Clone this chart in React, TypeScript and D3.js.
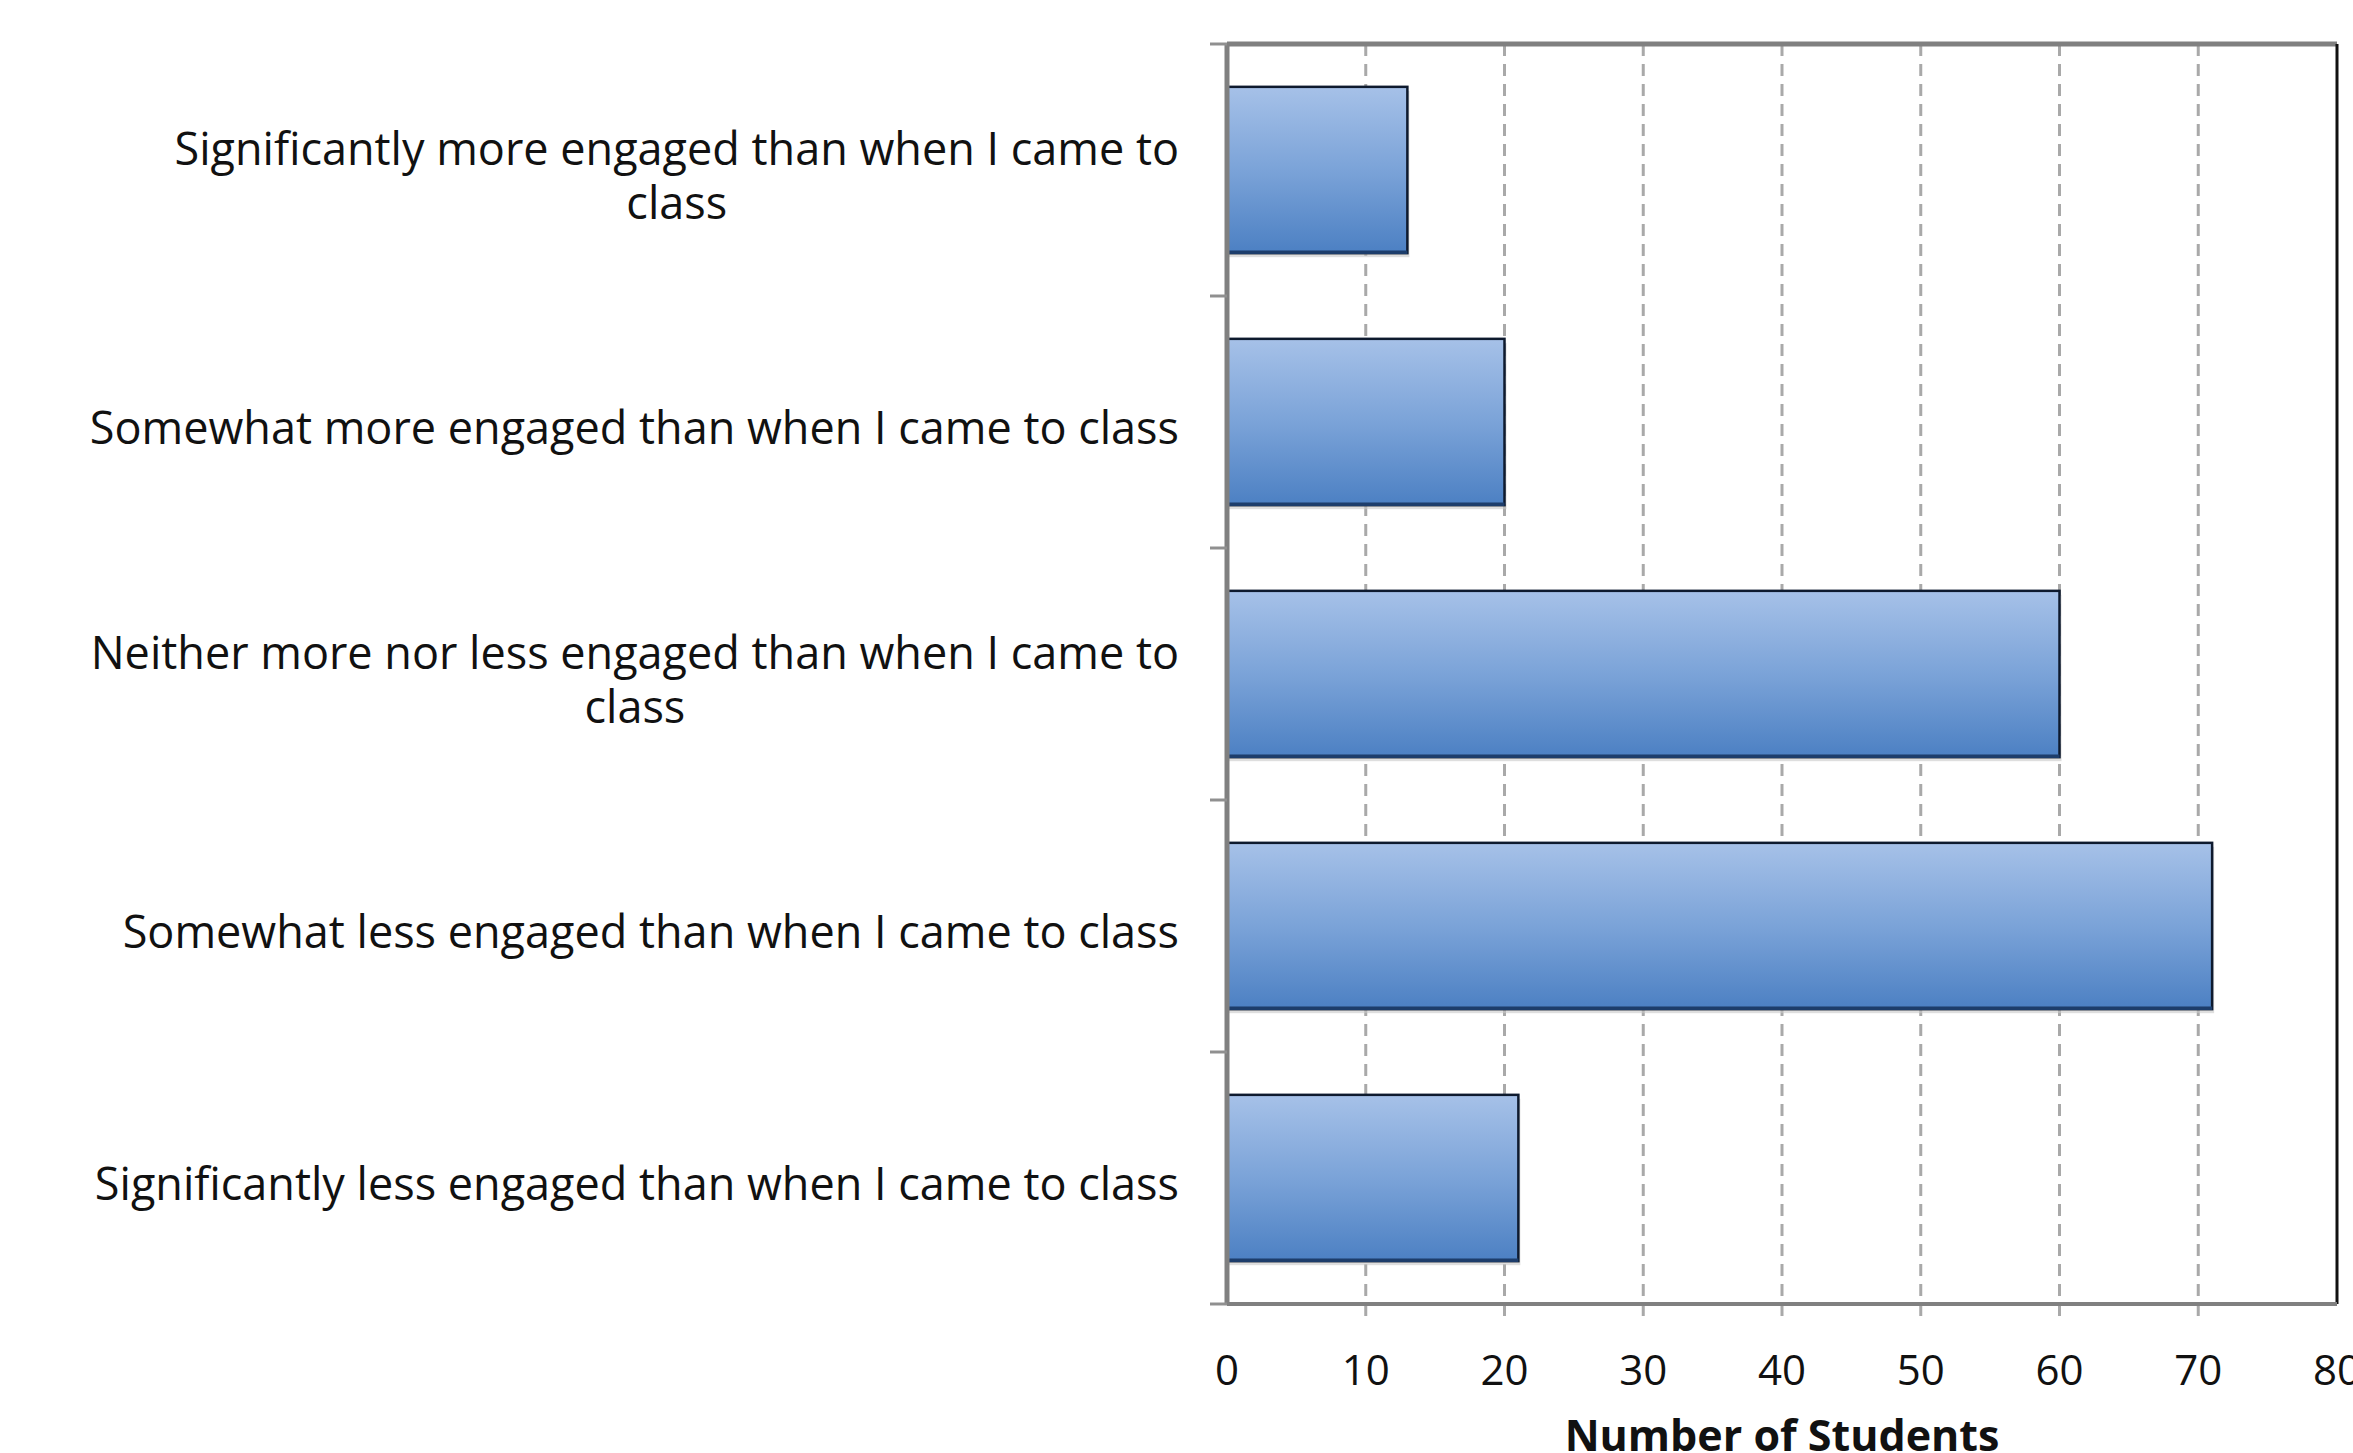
import React, { useEffect, useRef } from "react";
import * as d3 from "d3";

const categories = [
  ["Significantly more engaged than when I came to", "class"],
  ["Somewhat more engaged than when I came to class"],
  ["Neither more nor less engaged than when I came to", "class"],
  ["Somewhat less engaged than when I came to class"],
  ["Significantly less engaged than when I came to class"],
];
const counts = [13, 20, 60, 71, 21];
const xTicks = [0, 10, 20, 30, 40, 50, 60, 70, 80];
const xTitle = "Number of Students";

const W = 2353;
const H = 1453;

export default function App() {
  const ref = useRef<SVGSVGElement>(null);

  useEffect(() => {
    const svg = d3.select(ref.current);
    svg.selectAll("*").remove();

    const margin = { top: 44, right: 16, bottom: 149, left: 1227 };
    const plotW = W - margin.left - margin.right;
    const plotH = H - margin.top - margin.bottom;

    const x = d3.scaleLinear().domain([0, 80]).range([0, plotW]);
    const y = d3
      .scaleBand<number>()
      .domain(d3.range(categories.length))
      .range([0, plotH])
      .paddingInner(0.34)
      .paddingOuter(0.17);

    const defs = svg.append("defs");
    const grad = defs
      .append("linearGradient")
      .attr("id", "barGrad")
      .attr("x1", 0).attr("y1", 0).attr("x2", 0).attr("y2", 1);
    grad.append("stop").attr("offset", "0%").attr("stop-color", "#a6c1e8");
    grad.append("stop").attr("offset", "50%").attr("stop-color", "#7ba3d8");
    grad.append("stop").attr("offset", "100%").attr("stop-color", "#4c80c3");

    const g = svg
      .append("g")
      .attr("transform", `translate(${margin.left},${margin.top})`);

    // gridlines, dashed, running on below the axis as ticks
    g.selectAll(".grid")
      .data(xTicks.slice(1, -1))
      .join("line")
      .attr("x1", (d) => x(d))
      .attr("x2", (d) => x(d))
      .attr("y1", 0)
      .attr("y2", plotH + 20)
      .attr("stroke", "#a9a9a9")
      .attr("stroke-width", 3)
      .attr("stroke-dasharray", "12,8");

    // frame
    g.append("line")
      .attr("x1", 0).attr("x2", plotW).attr("y1", 0).attr("y2", 0)
      .attr("stroke", "#808080").attr("stroke-width", 5);
    g.append("line")
      .attr("x1", plotW).attr("x2", plotW).attr("y1", 0).attr("y2", plotH)
      .attr("stroke", "#111").attr("stroke-width", 3);

    // bar shadows
    g.selectAll(".shadow")
      .data(counts)
      .join("rect")
      .attr("x", 2)
      .attr("y", (d, i) => (y(i) as number) + 4)
      .attr("width", (d) => x(d))
      .attr("height", y.bandwidth())
      .attr("fill", "#c8c8c8")
      .attr("opacity", 0.6);

    // bars
    g.selectAll(".bar")
      .data(counts)
      .join("rect")
      .attr("x", 0)
      .attr("y", (d, i) => y(i) as number)
      .attr("width", (d) => x(d))
      .attr("height", y.bandwidth())
      .attr("fill", "url(#barGrad)")
      .attr("stroke", "#0e1a2e")
      .attr("stroke-width", 2.5);

    g.selectAll(".barBottom")
      .data(counts)
      .join("line")
      .attr("x1", 0)
      .attr("x2", (d) => x(d))
      .attr("y1", (d, i) => (y(i) as number) + y.bandwidth() - 1)
      .attr("y2", (d, i) => (y(i) as number) + y.bandwidth() - 1)
      .attr("stroke", "#1d3d6b")
      .attr("stroke-width", 3.5);

    // axes
    g.append("line")
      .attr("x1", 0).attr("x2", 0).attr("y1", 0).attr("y2", plotH)
      .attr("stroke", "#808080").attr("stroke-width", 5);
    g.append("line")
      .attr("x1", 0).attr("x2", plotW).attr("y1", plotH).attr("y2", plotH)
      .attr("stroke", "#808080").attr("stroke-width", 4);

    // category boundary ticks on the y axis
    g.selectAll(".ytick")
      .data(d3.range(categories.length + 1))
      .join("line")
      .attr("x1", -17)
      .attr("x2", 0)
      .attr("y1", (i) => i * (plotH / categories.length))
      .attr("y2", (i) => i * (plotH / categories.length))
      .attr("stroke", "#909090")
      .attr("stroke-width", 3);

    // x tick labels
    g.selectAll(".xlabel")
      .data(xTicks)
      .join("text")
      .attr("x", (d) => x(d))
      .attr("y", plotH + 70)
      .attr("text-anchor", "middle")
      .attr("dominant-baseline", "middle")
      .attr("font-family", "'Open Sans', sans-serif")
      .attr("font-size", 42)
      .attr("fill", "#111")
      .text((d) => d);

    // x title
    g.append("text")
      .attr("x", plotW / 2)
      .attr("y", plotH + 147)
      .attr("text-anchor", "middle")
      .attr("font-family", "'Open Sans', sans-serif")
      .attr("font-weight", "bold")
      .attr("font-size", 43)
      .attr("fill", "#111")
      .text(xTitle);

    // category labels: block right-aligned, lines centred within the block
    const labelRight = -48;
    const lineH = 54;
    categories.forEach((lines, i) => {
      const cy = (y(i) as number) + y.bandwidth() / 2 + 10;
      const t = g
        .append("text")
        .attr("font-family", "'Open Sans', sans-serif")
        .attr("font-size", 45)
        .attr("fill", "#111")
        .attr("text-anchor", "middle")
        .attr("dominant-baseline", "middle");
      const widths: number[] = [];
      const spans = lines.map((ln) => {
        const s = t.append("tspan").text(ln);
        widths.push((s.node() as SVGTSpanElement).getComputedTextLength());
        return s;
      });
      const blockW = d3.max(widths) as number;
      const cx = labelRight - blockW / 2;
      const y0 = cy - ((lines.length - 1) * lineH) / 2;
      spans.forEach((s, k) => s.attr("x", cx).attr("y", y0 + k * lineH));
    });
  }, []);

  return (
    <svg
      ref={ref}
      width={W}
      height={H}
      style={{ position: "absolute", left: 0, top: 0, background: "#fff" }}
    />
  );
}
